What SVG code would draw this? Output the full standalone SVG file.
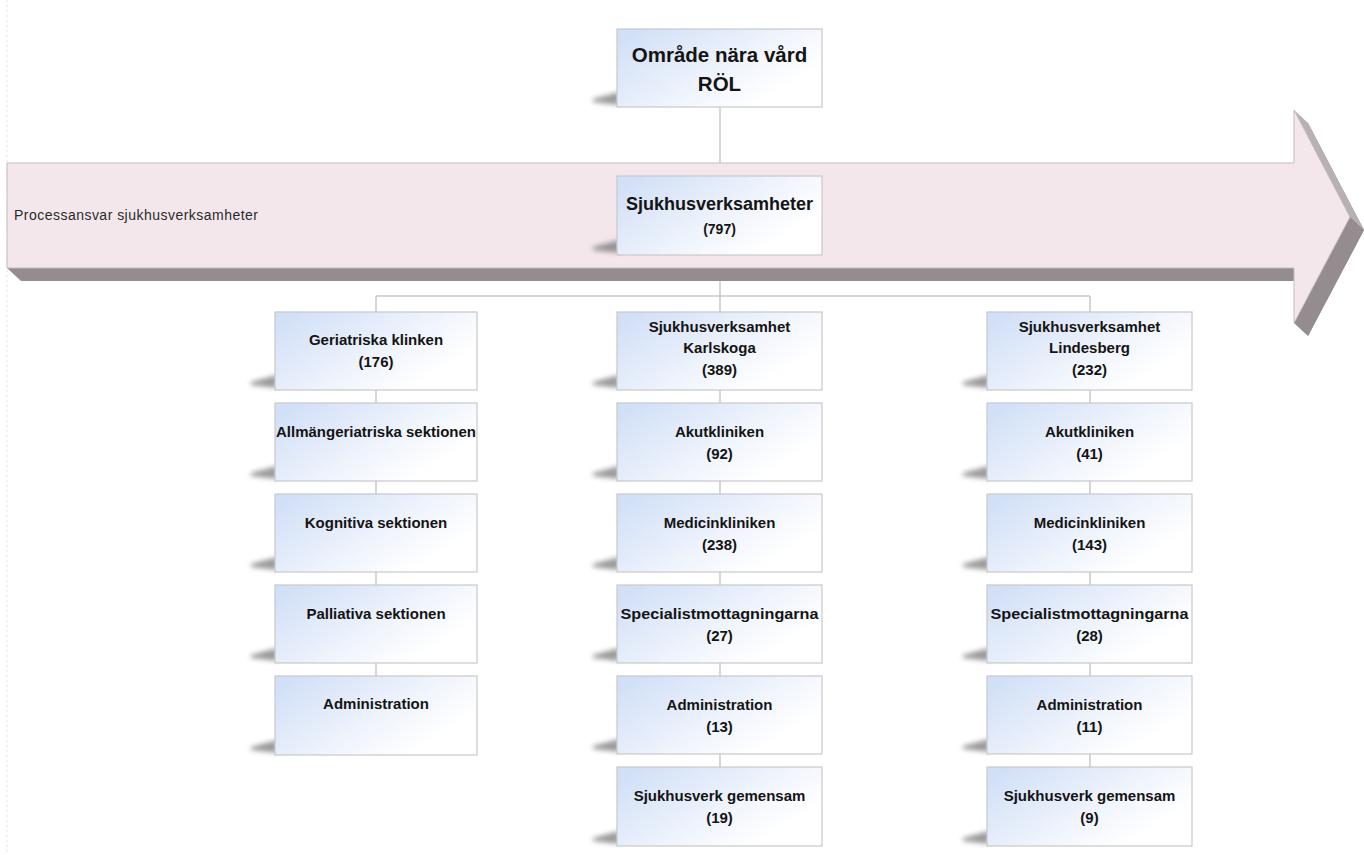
<svg xmlns="http://www.w3.org/2000/svg" width="1364" height="855" viewBox="0 0 1364 855">
<style>
.bx{fill:url(#g);stroke:#c9c9c9;stroke-width:1.2}
.t{font-family:"Liberation Sans",Arial,sans-serif;font-weight:bold;font-size:15px;fill:#141414;text-anchor:middle}
.c{stroke:#c8c8c8;stroke-width:1.5;fill:none}
</style>
<defs>
<linearGradient id="g" x1="0" y1="0.2" x2="1" y2="0.8">
<stop offset="0" stop-color="#d2e0f7"/>
<stop offset="0.5" stop-color="#eef3fc"/>
<stop offset="0.85" stop-color="#ffffff"/>
</linearGradient>
<filter id="bl" x="-50%" y="-200%" width="200%" height="500%"><feGaussianBlur stdDeviation="2.5"/></filter>
<path id="sh" d="M2,-15 L-24,-8 L-24,-5 L2,-2 Z" fill="#707070" opacity="0.7" filter="url(#bl)"/>
</defs>
<rect width="1364" height="855" fill="#fff"/>
<line x1="7" y1="0" x2="7" y2="855" stroke="#e2e2e2" stroke-dasharray="2,3"/>

<g id="connectors">
<line class="c" x1="720" y1="107" x2="720" y2="176"/>
<line class="c" x1="720" y1="255" x2="720" y2="767"/>
<line class="c" x1="376" y1="296" x2="1090" y2="296"/>
<line class="c" x1="376" y1="296" x2="376" y2="676"/>
<line class="c" x1="1090" y1="296" x2="1090" y2="767"/>
</g>

<g id="arrow">
<polygon points="21,176 1308,176 1308,123 1364,230 1308,336 1308,281 21,281" fill="#958c90"/>
<polygon points="7,268 1294,268 1308,281 21,281" fill="#958c90"/>
<polygon points="1350,217 1364,230 1308,336 1294,323" fill="#958c90"/>
<polygon points="1294,110 1308,123 1364,230 1350,217" fill="#b8b0b3"/>
<polygon points="7,163 1294,163 1294,110 1350,217 1294,323 1294,268 7,268" fill="#f3e7ec" stroke="#c4bcbf" stroke-width="1"/>
<text x="14" y="220" font-family="'Liberation Sans',Arial,sans-serif" font-size="14" fill="#2a2a2a" textLength="244">Processansvar sjukhusverksamheter</text>
</g>

<g id="n-top">
<use href="#sh" x="617" y="107"/>
<rect class="bx" x="617" y="29" width="205" height="78"/>
<text class="t" x="719.5" y="62" style="font-size:20.5px">Område nära vård</text>
<text class="t" x="719.5" y="91" style="font-size:20.5px">RÖL</text>
</g>

<g id="n-sjukhus">
<use href="#sh" x="617" y="255"/>
<rect class="bx" x="617" y="176" width="205" height="79"/>
<text class="t" x="719.5" y="210" style="font-size:18px">Sjukhusverksamheter</text>
<text class="t" x="719.5" y="234" style="font-size:14px">(797)</text>
</g>

<!-- left column -->
<g id="n-ger">
<use href="#sh" x="275" y="390"/>
<rect class="bx" x="275" y="312" width="202" height="78"/>
<text class="t" x="376" y="345">Geriatriska klinken</text>
<text class="t" x="376" y="367">(176)</text>
</g>
<g id="n-allm">
<use href="#sh" x="275" y="481"/>
<rect class="bx" x="275" y="403" width="202" height="78"/>
<text class="t" x="376" y="437" textLength="200" lengthAdjust="spacingAndGlyphs">Allmängeriatriska sektionen</text>
</g>
<g id="n-kogn">
<use href="#sh" x="275" y="572"/>
<rect class="bx" x="275" y="494" width="202" height="78"/>
<text class="t" x="376" y="528">Kognitiva sektionen</text>
</g>
<g id="n-pall">
<use href="#sh" x="275" y="663"/>
<rect class="bx" x="275" y="585" width="202" height="78"/>
<text class="t" x="376" y="619">Palliativa sektionen</text>
</g>
<g id="n-adm-l">
<use href="#sh" x="275" y="755"/>
<rect class="bx" x="275" y="676" width="202" height="79"/>
<text class="t" x="376" y="709">Administration</text>
</g>

<!-- middle column -->
<g id="n-karl">
<use href="#sh" x="617" y="390"/>
<rect class="bx" x="617" y="312" width="205" height="78"/>
<text class="t" x="719.5" y="332">Sjukhusverksamhet</text>
<text class="t" x="719.5" y="353">Karlskoga</text>
<text class="t" x="719.5" y="375">(389)</text>
</g>
<g id="n-akut-m">
<use href="#sh" x="617" y="481"/>
<rect class="bx" x="617" y="403" width="205" height="78"/>
<text class="t" x="719.5" y="437">Akutkliniken</text>
<text class="t" x="719.5" y="459">(92)</text>
</g>
<g id="n-med-m">
<use href="#sh" x="617" y="572"/>
<rect class="bx" x="617" y="494" width="205" height="78"/>
<text class="t" x="719.5" y="528">Medicinkliniken</text>
<text class="t" x="719.5" y="550">(238)</text>
</g>
<g id="n-spec-m">
<use href="#sh" x="617" y="663"/>
<rect class="bx" x="617" y="585" width="205" height="78"/>
<text class="t" x="719.5" y="619" textLength="198" lengthAdjust="spacingAndGlyphs">Specialistmottagningarna</text>
<text class="t" x="719.5" y="641">(27)</text>
</g>
<g id="n-adm-m">
<use href="#sh" x="617" y="754"/>
<rect class="bx" x="617" y="676" width="205" height="78"/>
<text class="t" x="719.5" y="710">Administration</text>
<text class="t" x="719.5" y="732">(13)</text>
</g>
<g id="n-gem-m">
<use href="#sh" x="617" y="846"/>
<rect class="bx" x="617" y="767" width="205" height="79"/>
<text class="t" x="719.5" y="801">Sjukhusverk gemensam</text>
<text class="t" x="719.5" y="823">(19)</text>
</g>

<!-- right column -->
<g id="n-lind">
<use href="#sh" x="987" y="390"/>
<rect class="bx" x="987" y="312" width="205" height="78"/>
<text class="t" x="1089.5" y="332">Sjukhusverksamhet</text>
<text class="t" x="1089.5" y="353">Lindesberg</text>
<text class="t" x="1089.5" y="375">(232)</text>
</g>
<g id="n-akut-r">
<use href="#sh" x="987" y="481"/>
<rect class="bx" x="987" y="403" width="205" height="78"/>
<text class="t" x="1089.5" y="437">Akutkliniken</text>
<text class="t" x="1089.5" y="459">(41)</text>
</g>
<g id="n-med-r">
<use href="#sh" x="987" y="572"/>
<rect class="bx" x="987" y="494" width="205" height="78"/>
<text class="t" x="1089.5" y="528">Medicinkliniken</text>
<text class="t" x="1089.5" y="550">(143)</text>
</g>
<g id="n-spec-r">
<use href="#sh" x="987" y="663"/>
<rect class="bx" x="987" y="585" width="205" height="78"/>
<text class="t" x="1089.5" y="619" textLength="198" lengthAdjust="spacingAndGlyphs">Specialistmottagningarna</text>
<text class="t" x="1089.5" y="641">(28)</text>
</g>
<g id="n-adm-r">
<use href="#sh" x="987" y="754"/>
<rect class="bx" x="987" y="676" width="205" height="78"/>
<text class="t" x="1089.5" y="710">Administration</text>
<text class="t" x="1089.5" y="732">(11)</text>
</g>
<g id="n-gem-r">
<use href="#sh" x="987" y="846"/>
<rect class="bx" x="987" y="767" width="205" height="79"/>
<text class="t" x="1089.5" y="801">Sjukhusverk gemensam</text>
<text class="t" x="1089.5" y="823">(9)</text>
</g>
</svg>
